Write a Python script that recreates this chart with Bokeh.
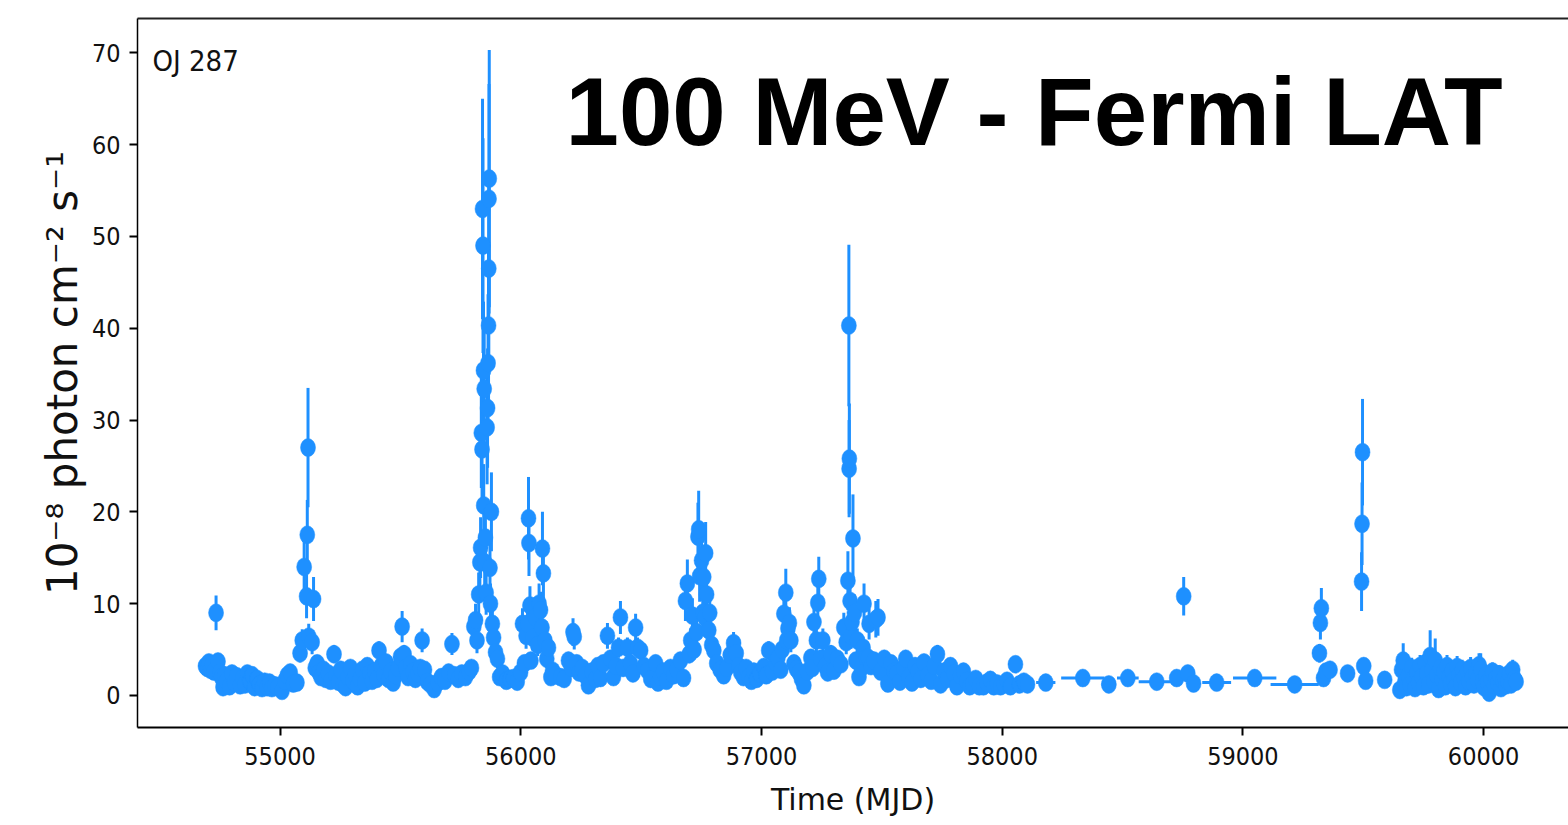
from bokeh.plotting import figure
from bokeh.models import Range1d, FixedTicker, LinearAxis, Label, ColumnDataSource
from bokeh.embed import file_html
from bokeh.resources import INLINE

# ---------------- data ----------------
x_ticks = [55000, 56000, 57000, 58000, 59000, 60000]
y_ticks = [0, 10, 20, 30, 40, 50, 60, 70]
source_name = "OJ 287"
title_text = "100 MeV - Fermi LAT"

# 2008-2009 quiescent (weekly bins)
a_mjd = [54690, 54697, 54704, 54711, 54718, 54725, 54734, 54742, 54749, 54756, 54763, 54770, 54777, 54790, 54800,
         54810, 54820, 54834, 54844, 54854, 54864, 54874, 54884, 54894, 54904, 54914, 54925, 54936, 54946, 54956,
         54966, 54978, 54990, 55008, 55020, 55030, 55042, 55055, 55070]
a_flux = [3.2, 3.0, 3.6, 2.8, 3.4, 2.6, 9.0, 3.7, 2.5, 2.0, 0.9, 2.2, 1.6, 1.0, 2.4,
          1.4, 2.1, 1.1, 1.9, 1.2, 2.4, 1.6, 2.2, 0.9, 1.8, 1.2, 0.8, 1.5, 0.9, 1.4,
          0.8, 1.1, 0.9, 0.5, 1.6, 2.2, 2.5, 1.3, 1.4]
a_err = [0.8, 0.8, 0.8, 0.8, 0.8, 0.7, 1.9, 0.8, 0.7, 0.7, 0.5, 0.7, 0.6, 0.5, 0.7,
         0.6, 0.7, 0.5, 0.6, 0.5, 0.7, 0.6, 0.7, 0.5, 0.6, 0.5, 0.5, 0.6, 0.5, 0.5,
         0.5, 0.5, 0.5, 0.4, 0.6, 0.7, 0.7, 0.6, 0.6]

# 2009 flare
b_mjd = [55083, 55092, 55100, 55110, 55113, 55116, 55119, 55133, 55139, 55146, 55154]
b_flux = [4.6, 6.0, 14.0, 10.8, 17.5, 27.0, 6.4, 5.8, 10.5, 3.0, 3.5]
b_err = [1.0, 1.2, 3.0, 2.4, 3.8, 6.5, 1.4, 1.3, 2.4, 0.8, 0.9]

# 2010-2011
c_mjd = [55162, 55170, 55180, 55190, 55200, 55210, 55224, 55232, 55242, 55252,
         55262, 55272, 55282, 55292, 55302, 55312, 55322, 55332, 55342, 55352,
         55362, 55372, 55382, 55392, 55402, 55411, 55420, 55430, 55440, 55450,
         55460, 55470, 55480, 55490, 55500, 55507, 55515, 55522, 55532, 55542,
         55552, 55562, 55572, 55582, 55590, 55600, 55612, 55625, 55640, 55655,
         55670, 55685, 55700, 55714, 55725, 55740, 55755, 55770, 55785, 55795]
c_flux = [2.5, 2.0, 2.8, 1.8, 2.4, 1.6, 4.5, 2.2, 1.5, 2.8,
          1.2, 0.9, 2.0, 3.0, 1.6, 2.3, 1.0, 1.8, 2.8, 1.4,
          3.2, 2.4, 1.6, 2.6, 1.8, 4.9, 3.2, 2.2, 3.6, 1.8,
          2.6, 1.4, 2.2, 3.0, 4.2, 7.5, 4.5, 3.0, 2.0, 3.4,
          2.6, 1.8, 2.4, 3.0, 6.0, 2.8, 1.5, 1.2, 0.7, 1.4,
          2.0, 1.6, 2.5, 5.6, 2.2, 1.8, 2.4, 2.0, 2.6, 3.0]
c_err = [0.7, 0.6, 0.7, 0.6, 0.7, 0.6, 1.0, 0.6, 0.5, 0.7,
         0.5, 0.5, 0.6, 0.7, 0.5, 0.6, 0.5, 0.6, 0.7, 0.5,
         0.8, 0.7, 0.5, 0.7, 0.6, 1.0, 0.8, 0.6, 0.8, 0.6,
         0.7, 0.5, 0.6, 0.7, 0.9, 1.7, 1.0, 0.7, 0.6, 0.8,
         0.7, 0.6, 0.7, 0.7, 1.3, 0.7, 0.5, 0.5, 0.4, 0.5,
         0.6, 0.5, 0.7, 1.2, 0.6, 0.6, 0.7, 0.6, 0.7, 0.8]

# 2011 major flare
d_mjd = [55805, 55812, 55818, 55825, 55830, 55833, 55836, 55839, 55841, 55843,
         55845, 55846, 55848, 55850, 55853, 55856, 55860, 55862, 55864, 55866,
         55867, 55868, 55869, 55872, 55874, 55878, 55882, 55887, 55895, 55903]
d_flux = [7.5, 8.2, 6.0, 11.0, 14.5, 16.1, 28.6, 26.8, 53.0, 49.0,
          35.4, 20.7, 33.4, 14.5, 17.2, 11.2, 29.2, 31.3, 36.2, 40.3,
          46.5, 54.1, 56.3, 13.9, 10.0, 20.0, 7.8, 6.3, 4.7, 4.0]
d_err = [1.6, 1.8, 1.4, 2.4, 3.0, 3.3, 6.0, 5.5, 12.0, 11.7,
         7.5, 4.5, 7.0, 3.0, 3.6, 2.4, 6.2, 6.5, 7.5, 8.5,
         10.0, 12.5, 14.0, 3.0, 2.2, 4.3, 1.7, 1.4, 1.1, 1.0]

# 2012
e_mjd = [55912, 55924, 55940, 55955, 55970, 55985, 55999, 56007, 56015, 56022,
         56028, 56032, 56034, 56038, 56042, 56049, 56060, 56070, 56076, 56082,
         56088, 56090, 56094, 56100, 56108, 56115, 56125, 56132, 56145, 56165,
         56180, 56198, 56210, 56217, 56222, 56232, 56242]
e_flux = [2.0, 2.4, 1.6, 1.8, 1.9, 1.5, 2.5, 7.8, 3.5, 6.5,
          7.8, 19.3, 16.6, 9.8, 3.8, 6.3, 8.5, 5.5, 10.0, 9.3,
          7.4, 16.0, 13.3, 6.0, 4.0, 5.2, 2.0, 2.7, 2.2, 2.0,
          1.8, 3.8, 3.0, 6.9, 6.4, 3.5, 2.5]
e_err = [0.6, 0.7, 0.5, 0.6, 0.6, 0.5, 0.7, 1.7, 0.9, 1.4,
         1.7, 4.5, 3.6, 2.1, 0.9, 1.4, 1.8, 1.2, 2.2, 2.0,
         1.6, 4.0, 3.0, 1.3, 1.0, 1.2, 0.6, 0.7, 0.6, 0.6,
         0.6, 0.9, 0.8, 1.5, 1.4, 0.9, 0.7]

# 2013-2014
f_mjd = [56255, 56268, 56281, 56295, 56310, 56320, 56331, 56343, 56360, 56372,
         56385, 56396, 56406, 56414, 56425, 56443, 56455, 56466, 56477, 56485,
         56498, 56512, 56527, 56540, 56560, 56570, 56580, 56592, 56605, 56622,
         56635, 56648, 56663, 56676]
f_flux = [3.0, 2.2, 1.1, 2.6, 1.8, 3.2, 1.9, 3.5, 6.5, 4.0,
          2.0, 3.2, 5.2, 8.5, 3.0, 5.2, 3.5, 2.4, 7.4, 5.2,
          4.9, 3.2, 2.7, 1.8, 3.5, 1.4, 2.0, 2.6, 1.6, 3.0,
          2.2, 2.8, 3.8, 1.9]
f_err = [0.7, 0.6, 0.5, 0.7, 0.6, 0.8, 0.6, 0.8, 1.4, 0.9,
         0.6, 0.8, 1.1, 1.8, 0.7, 1.1, 0.8, 0.6, 1.5, 1.1,
         1.0, 0.8, 0.7, 0.6, 0.8, 0.5, 0.6, 0.7, 0.5, 0.7,
         0.6, 0.7, 0.9, 0.6]

# 2014 flare
g_mjd = [56684, 56692, 56700, 56706, 56713, 56720, 56730, 56736, 56739, 56743,
         56751, 56756, 56760, 56765, 56768, 56772, 56781, 56785, 56793, 56802,
         56814, 56828, 56843]
g_flux = [10.3, 12.2, 4.5, 6.0, 8.7, 5.0, 6.9, 17.3, 18.1, 13.0,
          14.7, 9.0, 12.9, 8.5, 15.5, 11.0, 7.1, 9.0, 5.5, 4.9,
          3.5, 2.8, 2.2]
g_err = [2.2, 2.6, 1.0, 1.3, 1.9, 1.1, 1.5, 3.7, 4.2, 2.8,
         3.2, 2.0, 2.8, 1.8, 3.4, 2.4, 1.5, 2.0, 1.2, 1.1,
         0.8, 0.7, 0.6]

# 2014-2015
h_mjd = [56856, 56870, 56884, 56895, 56905, 56914, 56925, 56936, 56947, 56958,
         56968, 56980, 56993, 57010, 57020, 57030, 57045, 57058, 57068, 57080,
         57086, 57093, 57101, 57105, 57110, 57116, 57122, 57135, 57145, 57156,
         57166, 57176, 57190, 57205, 57212, 57218, 57228, 57234, 57238, 57245,
         57255, 57265, 57275, 57288, 57301, 57315, 57330]
h_flux = [3.0, 4.4, 5.7, 4.6, 3.2, 2.5, 2.0, 3.0, 2.0, 1.6,
          2.6, 1.8, 2.4, 3.1, 2.2, 4.9, 2.6, 3.6, 4.1, 2.8,
          5.0, 8.9, 11.2, 6.0, 7.3, 7.9, 6.0, 3.5, 2.9, 2.5,
          1.8, 1.1, 2.6, 4.1, 3.0, 8.0, 6.0, 10.1, 12.7, 4.0,
          6.0, 3.2, 2.5, 4.5, 2.7, 4.0, 3.4]
h_err = [0.8, 1.0, 1.2, 1.0, 0.8, 0.7, 0.6, 0.8, 0.6, 0.5,
         0.7, 0.6, 0.7, 0.8, 0.6, 1.0, 0.7, 0.8, 0.9, 0.7,
         1.1, 2.0, 2.6, 1.3, 1.6, 1.7, 1.3, 0.8, 0.7, 0.7,
         0.6, 0.5, 0.7, 0.9, 0.8, 1.7, 1.3, 2.1, 2.4, 0.9,
         1.3, 0.8, 0.7, 1.0, 0.7, 0.9, 0.8]

# 2015-2016 flare
i_mjd = [57342, 57352, 57359, 57363, 57364, 57365, 57368, 57372, 57376, 57380,
         57386, 57392, 57398, 57405, 57415, 57422, 57426, 57435, 57443, 57447,
         57455, 57467, 57475, 57484, 57495, 57510, 57525, 57538, 57550]
i_flux = [7.4, 5.8, 12.5, 40.3, 24.7, 25.8, 10.3, 6.5, 8.0, 17.1,
          9.0, 3.8, 6.0, 2.0, 3.0, 5.2, 10.0, 4.1, 4.1, 7.8,
          3.2, 3.8, 8.3, 8.5, 2.6, 4.0, 1.3, 3.5, 2.6]
i_err = [1.6, 1.3, 3.2, 8.8, 5.3, 6.0, 2.2, 1.4, 1.8, 4.8,
         2.0, 0.9, 1.3, 0.6, 0.8, 1.2, 2.2, 0.9, 0.9, 1.7,
         0.8, 0.9, 2.0, 2.0, 0.7, 0.9, 0.5, 0.8, 0.7]

# 2016-2018
j_mjd = [57562, 57575, 57590, 57599, 57612, 57625, 57638, 57650, 57662, 57675,
         57690, 57705, 57718, 57731, 57744, 57758, 57772, 57785, 57800, 57812,
         57826, 57839, 57852, 57865, 57877, 57890, 57905, 57922, 57936, 57951,
         57965, 57979, 57993, 58008, 58020, 58034, 58055, 58072, 58090, 58105]
j_flux = [2.4, 1.5, 3.0, 4.0, 2.0, 1.4, 3.2, 2.6, 1.8, 3.6,
          2.2, 1.6, 3.2, 4.5, 1.2, 2.6, 1.8, 3.2, 2.4, 1.0,
          2.2, 2.6, 1.6, 1.0, 1.2, 1.8, 1.0, 1.0, 1.4, 1.7,
          1.0, 1.3, 1.0, 1.2, 1.6, 1.0, 3.4, 1.2, 1.5, 1.2]
j_err = [0.7, 0.5, 0.8, 0.9, 0.6, 0.5, 0.8, 0.7, 0.6, 0.9,
         0.6, 0.5, 0.8, 1.0, 0.5, 0.7, 0.6, 0.8, 0.7, 0.5,
         0.6, 0.7, 0.5, 0.5, 0.5, 0.6, 0.5, 0.5, 0.5, 0.6,
         0.5, 0.5, 0.5, 0.5, 0.6, 0.5, 0.9, 0.5, 0.5, 0.5]

# 2018-2021 long adaptive bins
k_mjd = [58181, 58335, 58443, 58522, 58642, 58725, 58754, 58771, 58795, 58891, 59049, 59215]
k_flux = [1.4, 1.9, 1.2, 1.9, 1.5, 1.9, 10.8, 2.4, 1.3, 1.4, 1.9, 1.2]
k_err = [0.5, 0.5, 0.5, 0.5, 0.5, 0.5, 2.1, 0.7, 0.5, 0.4, 0.5, 0.4]
k_half_bin = [40, 90, 30, 45, 75, 20, 5, 10, 15, 60, 90, 100]

# 2021-2022
l_mjd = [59318, 59322, 59326, 59335, 59345, 59362, 59435, 59493, 59495, 59497, 59502, 59510, 59589]
l_flux = [4.6, 7.9, 9.5, 1.9, 2.6, 2.8, 2.4, 12.4, 18.7, 26.5, 3.2, 1.6, 1.7]
l_err = [1.0, 1.8, 2.2, 0.6, 0.7, 0.7, 0.6, 3.2, 4.5, 5.8, 0.8, 0.5, 0.5]
l_half_bin = [3.5, 3.5, 3.5, 5, 5, 15, 20, 3.5, 3.5, 3.5, 5, 8, 25]

# 2022-2023 dense weekly bins
m_mjd = [59652, 59659, 59666, 59673, 59680, 59687, 59694, 59701, 59708, 59715,
         59722, 59729, 59736, 59743, 59750, 59757, 59764, 59771, 59778, 59785,
         59792, 59799, 59806, 59813, 59820, 59827, 59834, 59841, 59848, 59855,
         59862, 59869, 59876, 59883, 59890, 59897, 59904, 59911, 59918, 59925,
         59932, 59939, 59946, 59953, 59960, 59967, 59974, 59981, 59988, 59995,
         60002, 60009, 60016, 60023, 60030, 60037, 60044, 60051, 60058, 60065,
         60072, 60079, 60086, 60093, 60100, 60107, 60114, 60121, 60128, 60135]
m_flux = [0.6, 2.8, 3.8, 1.5, 0.9, 2.2, 1.2, 3.0, 1.8, 0.8,
          2.5, 1.4, 3.2, 2.0, 1.0, 3.5, 2.4, 1.2, 4.3, 2.8,
          1.6, 3.8, 2.2, 0.7, 3.0, 1.8, 2.6, 1.0, 3.2, 2.0,
          1.3, 2.7, 1.6, 0.9, 3.1, 2.2, 1.4, 2.8, 1.9, 1.0,
          2.6, 1.5, 3.0, 2.0, 1.2, 2.4, 1.7, 3.3, 2.8, 1.5,
          0.9, 2.2, 1.4, 0.3, 1.8, 2.6, 1.1, 1.9, 1.4, 2.3,
          0.8, 1.6, 2.0, 1.1, 1.5, 2.4, 1.2, 2.8, 1.8, 1.5]
m_err = [0.6, 1.0, 1.9, 0.8, 0.6, 0.9, 0.7, 1.1, 0.8, 0.6,
         1.0, 0.8, 1.2, 0.9, 0.7, 1.3, 1.0, 0.8, 2.8, 1.1,
         0.9, 2.4, 1.0, 0.6, 1.2, 0.9, 1.1, 0.7, 1.2, 0.9,
         0.8, 1.1, 0.8, 0.6, 1.2, 1.0, 0.8, 1.1, 0.9, 0.7,
         1.0, 0.8, 1.2, 0.9, 0.7, 1.0, 0.9, 1.3, 1.8, 0.8,
         0.6, 1.0, 0.8, 0.5, 0.9, 1.0, 0.7, 0.9, 0.8, 1.0,
         0.6, 0.8, 0.9, 0.7, 0.8, 1.0, 0.7, 1.1, 0.9, 0.8]

weekly_half_bin = 3.5  # days, half-width of the weekly bins

# ---------------- assemble ----------------
weekly = [(a_mjd, a_flux, a_err), (b_mjd, b_flux, b_err), (c_mjd, c_flux, c_err),
          (d_mjd, d_flux, d_err), (e_mjd, e_flux, e_err), (f_mjd, f_flux, f_err),
          (g_mjd, g_flux, g_err), (h_mjd, h_flux, h_err), (i_mjd, i_flux, i_err),
          (j_mjd, j_flux, j_err), (m_mjd, m_flux, m_err)]
mjd, flux, ferr, xerr = [], [], [], []
for sm, sf, se in weekly:
    n = min(len(sm), len(sf), len(se))
    mjd += sm[:n]; flux += sf[:n]; ferr += se[:n]; xerr += [weekly_half_bin] * n
for sm, sf, se, sx in [(k_mjd, k_flux, k_err, k_half_bin), (l_mjd, l_flux, l_err, l_half_bin)]:
    n = min(len(sm), len(sf), len(se), len(sx))
    mjd += sm[:n]; flux += sf[:n]; ferr += se[:n]; xerr += sx[:n]

src = ColumnDataSource(dict(
    x=mjd, y=flux,
    ylo=[f - e for f, e in zip(flux, ferr)], yhi=[f + e for f, e in zip(flux, ferr)],
    xlo=[m - h for m, h in zip(mjd, xerr)], xhi=[m + h for m, h in zip(mjd, xerr)],
))

BLUE = "#1E90FF"
TICK_FONT = "DejaVu Sans Condensed, DejaVu Sans"

p = figure(width=1568, height=825, output_backend="svg", toolbar_location=None,
           x_range=Range1d(54407.6, 60352.7), y_range=Range1d(-3.49, 73.74),
           min_border_left=137, min_border_right=0, min_border_top=18, min_border_bottom=98)
p.background_fill_color = "white"
p.border_fill_color = "white"
p.outline_line_color = None
p.xgrid.visible = False
p.ygrid.visible = False

p.segment(x0="xlo", y0="y", x1="xhi", y1="y", source=src, line_color=BLUE, line_width=3)
p.segment(x0="x", y0="ylo", x1="x", y1="yhi", source=src, line_color=BLUE, line_width=3)
p.ellipse(x="x", y="y", width=15, height=18, width_units="screen", height_units="screen",
          source=src, fill_color=BLUE, line_color=BLUE, line_width=0.5)

for ax in (p.xaxis[0], p.yaxis[0]):
    ax.major_tick_in = 0
    ax.major_tick_out = 8
    ax.minor_tick_line_color = None
    ax.major_tick_line_width = 2
    ax.major_tick_line_color = "black"
    ax.axis_line_color = "black"
    ax.major_label_text_font = TICK_FONT
    ax.major_label_text_font_size = "25px"
    ax.major_label_text_color = "#111111"
    ax.axis_label_text_font_style = "normal"
    ax.axis_label_text_color = "#111111"

p.xaxis.ticker = FixedTicker(ticks=x_ticks)
p.yaxis.ticker = FixedTicker(ticks=y_ticks)
p.xaxis.axis_line_width = 2
p.yaxis.axis_line_width = 1.5
p.xaxis.major_label_standoff = 11
p.yaxis.major_label_standoff = 9

p.xaxis.axis_label = "Time (MJD)"
p.xaxis.axis_label_text_font = "DejaVu Sans"
p.xaxis.axis_label_text_font_size = "30px"
p.xaxis.axis_label_standoff = 14

p.yaxis.axis_label = "10\u207b\u2078 photon cm\u207b\u00b2 s\u207b\u00b9"
p.yaxis.axis_label_text_font = "DejaVu Sans"
p.yaxis.axis_label_text_font_size = "42px"
p.yaxis.axis_label_standoff = 2

top = LinearAxis(ticker=FixedTicker(ticks=[]), major_tick_out=0, major_tick_in=0,
                 minor_tick_out=0, minor_tick_in=0, major_label_text_font_size="0px",
                 axis_line_width=2, axis_line_color="#222222", major_label_standoff=0)
p.add_layout(top, "above")

p.add_layout(Label(x=54470, y=69.1, text=source_name, text_font=TICK_FONT,
                   text_font_size="29px", text_color="#111111", text_baseline="alphabetic"))
p.add_layout(Label(x=56186, y=63.6, text=title_text, text_font="Liberation Sans",
                   text_font_style="bold", text_font_size="96px", text_color="black",
                   text_baseline="alphabetic"))

open("out.html", "w").write(file_html(p, INLINE))
